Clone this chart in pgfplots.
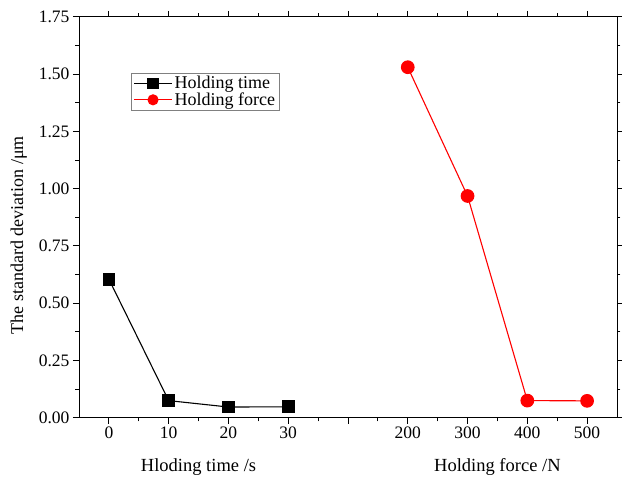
\documentclass[border=0pt]{standalone}
\usepackage{pgfplots}
\pgfplotsset{compat=1.18}
\usepackage{fontspec}
\setmainfont{Liberation Serif}
\begin{document}
\begin{tikzpicture}
\useasboundingbox (-79pt,-59.2pt) rectangle (543pt,417.8pt);
\begin{axis}[
  at={(0,0)}, anchor=south west,
  scale only axis, width=538pt, height=401pt,
  xmin=-0.5, xmax=8.5, ymin=0, ymax=1.75,
  xtick={0,1,2,3,4,5,6,7,8},
  xticklabels={0,10,20,30,,200,300,400,500},
  ytick={0,0.25,0.5,0.75,1,1.25,1.5,1.75},
  minor x tick num=1, minor y tick num=1,
  tick align=outside,
  major tick length=6pt, minor tick length=3.5pt,
  every tick/.style={black, line width=0.9pt},
  axis line style={line width=0.9pt},
  /pgf/number format/assume math mode=true,
  yticklabel style={/pgf/number format/fixed, /pgf/number format/fixed zerofill, /pgf/number format/precision=2},
  tick label style={font=\fontsize{17.5}{20}\selectfont},
  label style={font=\fontsize{18}{21}\selectfont},
  ylabel={The standard deviation /μm},
  ylabel style={at={(ticklabel cs:0.455,5pt)}},
  clip=false,
  legend style={at={(0.097,0.86)}, anchor=north west, draw=gray, line width=0.6pt,
    font=\fontsize{18}{21}\selectfont, inner xsep=2pt, inner ysep=1pt, row sep=-1.5pt},
  legend cell align=left,
  legend image code/.code={
    \draw[mark repeat=2,mark phase=2] plot coordinates {(0pt,0pt) (19pt,0pt) (38pt,0pt)};
  },
  legend image post style={mark size=5pt},
]
\addplot[black, line width=1.1pt, mark=square*, mark size=5.8pt, mark options={solid, fill=black}]
  coordinates {(0,0.605) (1,0.075) (2,0.047) (3,0.048)};
\addlegendentry{Holding time}
\addplot[red, line width=1.1pt, mark=*, mark size=6.3pt, mark options={solid, fill=red}]
  coordinates {(5,1.53) (6,0.968) (7,0.075) (8,0.074)};
\addlegendentry{Holding force}
\node[font=\fontsize{18.5}{21}\selectfont] at (axis cs:1.5,0) [yshift=-49pt] {Hloding time /s};
\node[font=\fontsize{18.5}{21}\selectfont] at (axis cs:6.5,0) [yshift=-49pt] {Holding force /N};
\end{axis}
\end{tikzpicture}
\end{document}
